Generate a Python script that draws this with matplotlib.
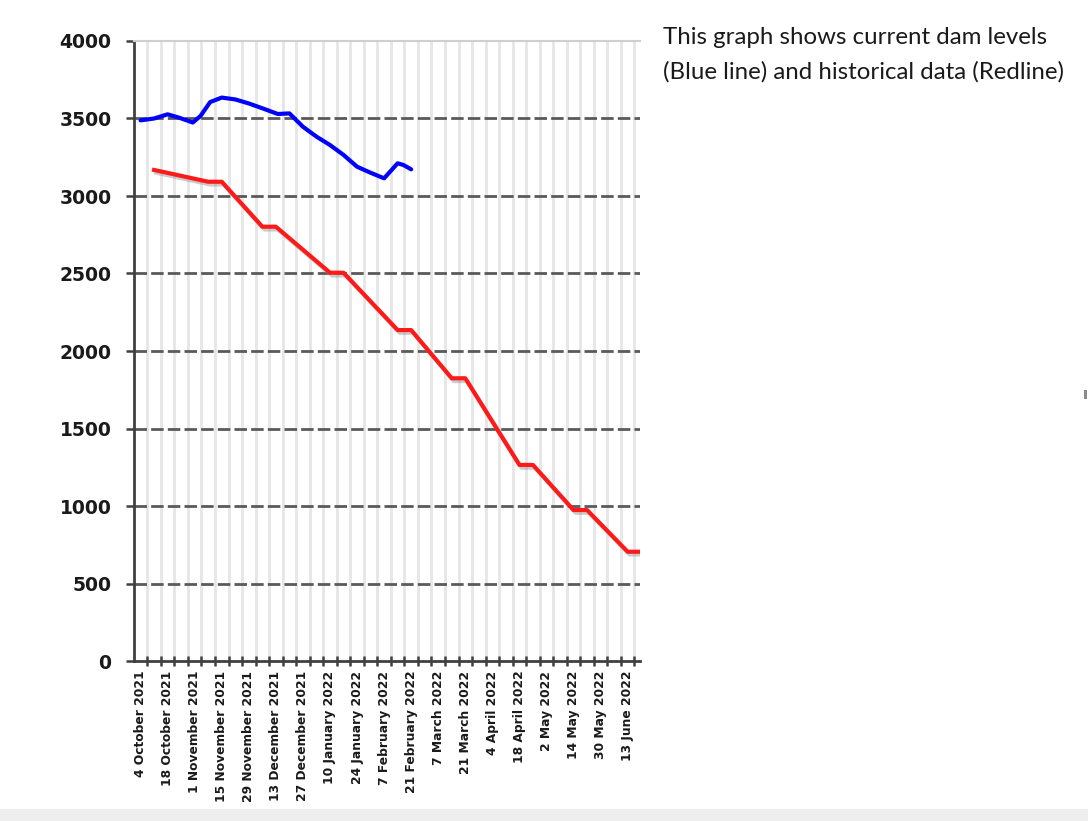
import matplotlib
matplotlib.use("Agg")
import matplotlib.pyplot as plt
import matplotlib.patheffects as pe
from matplotlib.patches import Rectangle
import datetime as dt

# ---- data ----
start_date = dt.date(2021, 10, 4)
n_weeks = 38
label_texts = ["4 October 2021", "18 October 2021", "1 November 2021", "15 November 2021",
               "29 November 2021", "13 December 2021", "27 December 2021", "10 January 2022",
               "24 January 2022", "7 February 2022", "21 February 2022", "7 March 2022",
               "21 March 2022", "4 April 2022", "18 April 2022", "2 May 2022", "14 May 2022",
               "30 May 2022", "13 June 2022"]

# current dam levels (blue): days after 4 October 2021, level
blue_days = [0, 7, 14, 20, 27, 31, 36, 42, 49, 56, 63, 71, 77, 84, 91, 98, 105, 112,
             119, 126, 133, 136, 140]
blue_vals = [3488, 3500, 3527, 3505, 3474, 3516, 3606, 3635, 3623, 3597, 3566, 3529,
             3533, 3447, 3383, 3329, 3265, 3189, 3150, 3114, 3211, 3200, 3172]

# historical data (red): week index, level
red_weeks = [1, 5, 6, 9, 10, 14, 15, 19, 20, 23, 24, 28, 29, 32, 33, 36, 37]
red_vals = [3168, 3092, 3092, 2802, 2802, 2505, 2505, 2135, 2135, 1824, 1824,
            1265, 1265, 974, 974, 705, 705]

y_ticks = [0, 500, 1000, 1500, 2000, 2500, 3000, 3500, 4000]

# ---- figure ----
W, H = 1088, 821
fig = plt.figure(figsize=(W / 100, H / 100), dpi=100)
fig.patch.set_facecolor("white")

left_px, right_px, top_px, bot_px = 133.8, 640, 41, 661
ax = fig.add_axes([left_px / W, (H - bot_px) / H, (right_px - left_px) / W, (bot_px - top_px) / H])

cat_w = 13.53
ax.set_xlim(0, (right_px - left_px) / cat_w)
ax.set_ylim(0, 4000)

# gridlines
for b in range(1, n_weeks):
    ax.axvline(b, color="#e6e6e6", lw=2.0, zorder=0)
for yv in y_ticks[1:-1]:
    ax.axhline(yv, color="#5a5a5a", lw=2.0, ls=(0, (4.5, 1.5)), zorder=1)

# series
bx = [d / 7 + 0.5 for d in blue_days]
ax.plot(bx, blue_vals, color="#0000ff", lw=3, zorder=3, solid_capstyle="round")
rx = [w + 0.5 for w in red_weeks]
ax.plot(rx, red_vals, color="#ff1a1a", lw=3, zorder=3,
        path_effects=[pe.SimpleLineShadow(offset=(1.5, -2), shadow_color="#9a9a9a", alpha=0.5),
                      pe.Normal()])

# spines
ax.spines["right"].set_visible(False)
ax.spines["top"].set_color("#cfcfcf")
ax.spines["top"].set_linewidth(1.5)
ax.spines["left"].set_color("#404040")
ax.spines["left"].set_linewidth(2)
ax.spines["bottom"].set_color("#404040")
ax.spines["bottom"].set_linewidth(2)

# y axis
ax.set_yticks(y_ticks)
ax.set_yticklabels([str(v) for v in y_ticks], fontsize=13.5, fontweight="bold",
                   family="DejaVu Sans", color="#1a1a1a")
ax.tick_params(axis="y", direction="out", length=6, width=1.8, color="#404040", pad=10)

# x axis: ticks at category boundaries, labels at every second category centre
ax.set_xticks(list(range(1, n_weeks)))
ax.set_xticklabels([])
ax.tick_params(axis="x", which="major", direction="inout", length=7, width=1.8, color="#404040")
label_pos = [i + 0.5 for i in range(0, n_weeks, 2)][:len(label_texts)]
ax.set_xticks(label_pos, minor=True)
ax.set_xticklabels(label_texts, minor=True, rotation=90, fontsize=8.8, fontweight="bold",
                   family="DejaVu Sans", color="#1a1a1a")
ax.tick_params(axis="x", which="minor", length=0, pad=7)

# annotation text
fig.text(663 / W, 1 - 37 / H, "This graph shows current dam levels", fontsize=17.3,
         family="Lato", color="#1a1a1a", va="center", ha="left")
fig.text(663 / W, 1 - 72 / H, "(Blue line) and historical data (Redline)", fontsize=17.3,
         family="Lato", color="#1a1a1a", va="center", ha="left")

# small stray mark and bottom band
fig.add_artist(Rectangle((1084 / W, 1 - 399 / H), 3 / W, 9 / H, transform=fig.transFigure,
                         color="#8a8a8a", lw=0))
fig.add_artist(Rectangle((0, 0), 1, 12 / H, transform=fig.transFigure, color="#eeeeee", lw=0))

fig.savefig("out.png", dpi=100)
